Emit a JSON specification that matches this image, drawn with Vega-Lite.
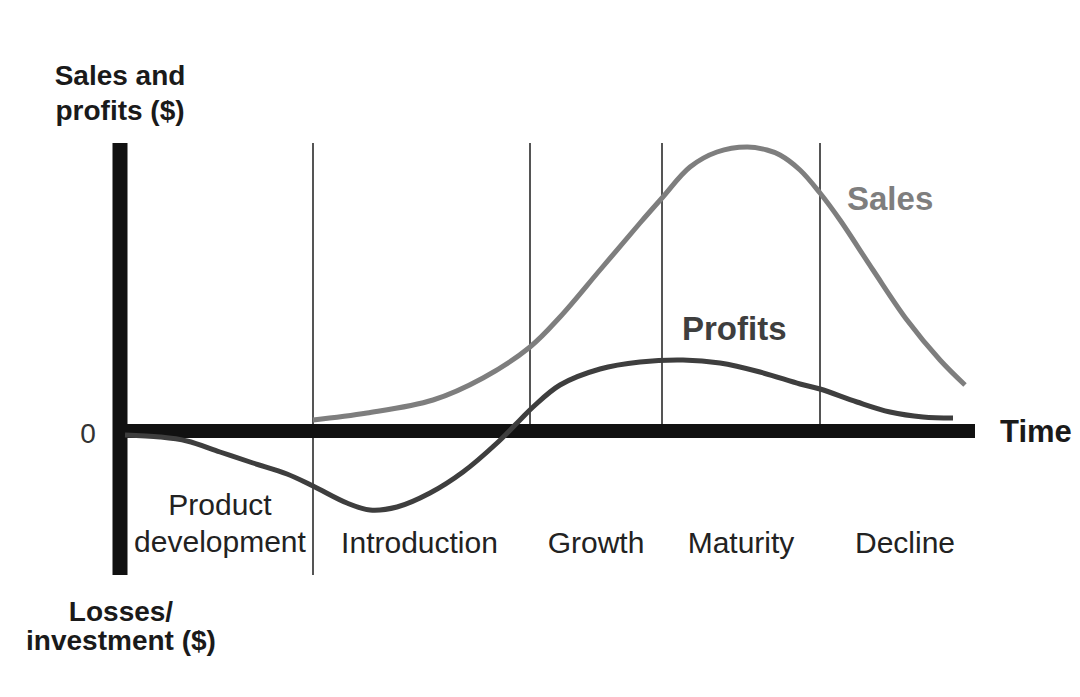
{
  "$schema": "https://vega.github.io/schema/vega-lite/v6.json",
  "width": 1080,
  "height": 697,
  "autosize": {"type": "fit", "contains": "padding"},
  "padding": 0,
  "background": "#ffffff",
  "config": {"view": {"stroke": null}, "font": "Liberation Sans"},
  "datasets": {
    "curves": [
      {"series": "Sales", "t": 19.3, "v": 1.1},
      {"series": "Sales", "t": 24.7, "v": 1.8},
      {"series": "Sales", "t": 31.3, "v": 3.1},
      {"series": "Sales", "t": 36.3, "v": 5.3},
      {"series": "Sales", "t": 41.0, "v": 8.4},
      {"series": "Sales", "t": 44.0, "v": 11.4},
      {"series": "Sales", "t": 48.0, "v": 16.1},
      {"series": "Sales", "t": 52.0, "v": 20.8},
      {"series": "Sales", "t": 54.2, "v": 23.3},
      {"series": "Sales", "t": 57.0, "v": 26.4},
      {"series": "Sales", "t": 59.7, "v": 27.9},
      {"series": "Sales", "t": 62.7, "v": 28.4},
      {"series": "Sales", "t": 64.7, "v": 28.1},
      {"series": "Sales", "t": 66.0, "v": 27.6},
      {"series": "Sales", "t": 68.0, "v": 26.1},
      {"series": "Sales", "t": 70.0, "v": 23.8},
      {"series": "Sales", "t": 72.0, "v": 21.1},
      {"series": "Sales", "t": 75.3, "v": 16.1},
      {"series": "Sales", "t": 78.7, "v": 11.1},
      {"series": "Sales", "t": 82.0, "v": 7.1},
      {"series": "Sales", "t": 84.5, "v": 4.6},
      {"series": "Profits", "t": 0.5, "v": -0.4},
      {"series": "Profits", "t": 4.0, "v": -0.6},
      {"series": "Profits", "t": 6.7, "v": -1.0},
      {"series": "Profits", "t": 10.0, "v": -2.1},
      {"series": "Profits", "t": 13.3, "v": -3.2},
      {"series": "Profits", "t": 16.7, "v": -4.3},
      {"series": "Profits", "t": 19.3, "v": -5.5},
      {"series": "Profits", "t": 22.7, "v": -7.2},
      {"series": "Profits", "t": 25.0, "v": -7.9},
      {"series": "Profits", "t": 27.7, "v": -7.6},
      {"series": "Profits", "t": 31.0, "v": -6.2},
      {"series": "Profits", "t": 34.3, "v": -4.1},
      {"series": "Profits", "t": 37.7, "v": -1.2},
      {"series": "Profits", "t": 40.0, "v": 1.1},
      {"series": "Profits", "t": 41.3, "v": 2.4},
      {"series": "Profits", "t": 44.0, "v": 4.6},
      {"series": "Profits", "t": 48.0, "v": 6.2},
      {"series": "Profits", "t": 52.0, "v": 6.9},
      {"series": "Profits", "t": 56.3, "v": 7.1},
      {"series": "Profits", "t": 60.0, "v": 6.8},
      {"series": "Profits", "t": 64.0, "v": 5.9},
      {"series": "Profits", "t": 68.0, "v": 4.7},
      {"series": "Profits", "t": 70.0, "v": 4.2},
      {"series": "Profits", "t": 73.7, "v": 2.9},
      {"series": "Profits", "t": 77.0, "v": 1.9},
      {"series": "Profits", "t": 80.3, "v": 1.4},
      {"series": "Profits", "t": 83.3, "v": 1.3}
    ],
    "dividers": [
      {"t": 19.3, "low": -14.4, "high": 28.8},
      {"t": 41.0, "low": 0, "high": 28.8},
      {"t": 54.2, "low": 0, "high": 28.8},
      {"t": 70.0, "low": 0, "high": 28.8}
    ],
    "labels": [
      {"role": "axis", "text": "Sales and", "t": 0, "v": 34.6},
      {"role": "axis", "text": "profits ($)", "t": 0, "v": 31.1},
      {"role": "axis", "text": "Losses/", "t": 0.1, "v": -19.0},
      {"role": "axis", "text": "investment ($)", "t": 0.1, "v": -21.9},
      {"role": "stage", "text": "Product", "t": 10.0, "v": -8.4},
      {"role": "stage", "text": "development", "t": 10.0, "v": -12.1},
      {"role": "stage", "text": "Introduction", "t": 29.95, "v": -12.2},
      {"role": "stage", "text": "Growth", "t": 47.6, "v": -12.2},
      {"role": "stage", "text": "Maturity", "t": 62.1, "v": -12.2},
      {"role": "stage", "text": "Decline", "t": 78.5, "v": -12.2}
    ]
  },
  "layer": [
    {
      "data": {"name": "dividers"},
      "mark": {"type": "rule", "color": "#555555", "strokeWidth": 2},
      "encoding": {
        "x": {"field": "t", "type": "quantitative", "scale": {"domain": [-12, 96], "nice": false, "zero": false}, "axis": null},
        "y": {"field": "low", "type": "quantitative", "scale": {"domain": [-26.6, 43.1], "nice": false, "zero": false}, "axis": null},
        "y2": {"field": "high"}
      }
    },
    {
      "data": {"values": [{"t": 0, "low": -14.4, "high": 28.8}]},
      "mark": {"type": "rule", "color": "#111111", "strokeWidth": 15, "strokeCap": "butt"},
      "encoding": {
        "x": {"field": "t", "type": "quantitative"},
        "y": {"field": "low", "type": "quantitative"},
        "y2": {"field": "high"}
      }
    },
    {
      "data": {"values": [{"start": 0, "end": 85.5, "v": 0}]},
      "mark": {"type": "rule", "color": "#111111", "strokeWidth": 14, "strokeCap": "butt"},
      "encoding": {
        "x": {"field": "start", "type": "quantitative"},
        "x2": {"field": "end"},
        "y": {"field": "v", "type": "quantitative"}
      }
    },
    {
      "data": {"name": "curves"},
      "mark": {"type": "line", "strokeWidth": 5, "interpolate": "catmull-rom", "strokeCap": "butt"},
      "encoding": {
        "x": {"field": "t", "type": "quantitative"},
        "y": {"field": "v", "type": "quantitative"},
        "detail": {"field": "series"},
        "color": {"field": "series", "type": "nominal", "scale": {"domain": ["Sales", "Profits"], "range": ["#7e7e7e", "#3e3e3e"]}, "legend": null}
      }
    },
    {
      "data": {"name": "labels"},
      "transform": [{"filter": "datum.role === 'axis'"}],
      "mark": {"type": "text", "align": "center", "baseline": "alphabetic", "fontSize": 28, "fontWeight": "bold", "color": "#1a1a1a"},
      "encoding": {
        "x": {"field": "t", "type": "quantitative"},
        "y": {"field": "v", "type": "quantitative"},
        "text": {"field": "text"}
      }
    },
    {
      "data": {"name": "labels"},
      "transform": [{"filter": "datum.role === 'stage'"}],
      "mark": {"type": "text", "align": "center", "baseline": "alphabetic", "fontSize": 30, "color": "#222222"},
      "encoding": {
        "x": {"field": "t", "type": "quantitative"},
        "y": {"field": "v", "type": "quantitative"},
        "text": {"field": "text"}
      }
    },
    {
      "data": {"values": [{"text": "0", "t": -3.2, "v": -1.2}]},
      "mark": {"type": "text", "align": "center", "baseline": "alphabetic", "fontSize": 28, "color": "#333333"},
      "encoding": {
        "x": {"field": "t", "type": "quantitative"},
        "y": {"field": "v", "type": "quantitative"},
        "text": {"field": "text"}
      }
    },
    {
      "data": {"values": [{"text": "Time", "t": 88.0, "v": -1.1}]},
      "mark": {"type": "text", "align": "left", "baseline": "alphabetic", "fontSize": 31, "fontWeight": "bold", "color": "#1a1a1a"},
      "encoding": {
        "x": {"field": "t", "type": "quantitative"},
        "y": {"field": "v", "type": "quantitative"},
        "text": {"field": "text"}
      }
    },
    {
      "data": {"values": [{"series": "Sales", "t": 72.7, "v": 22.1}, {"series": "Profits", "t": 56.2, "v": 9.1}]},
      "mark": {"type": "text", "align": "left", "baseline": "alphabetic", "fontSize": 33, "fontWeight": "bold"},
      "encoding": {
        "x": {"field": "t", "type": "quantitative"},
        "y": {"field": "v", "type": "quantitative"},
        "text": {"field": "series"},
        "color": {"field": "series", "type": "nominal", "scale": {"domain": ["Sales", "Profits"], "range": ["#7e7e7e", "#3e3e3e"]}, "legend": null}
      }
    }
  ]
}
